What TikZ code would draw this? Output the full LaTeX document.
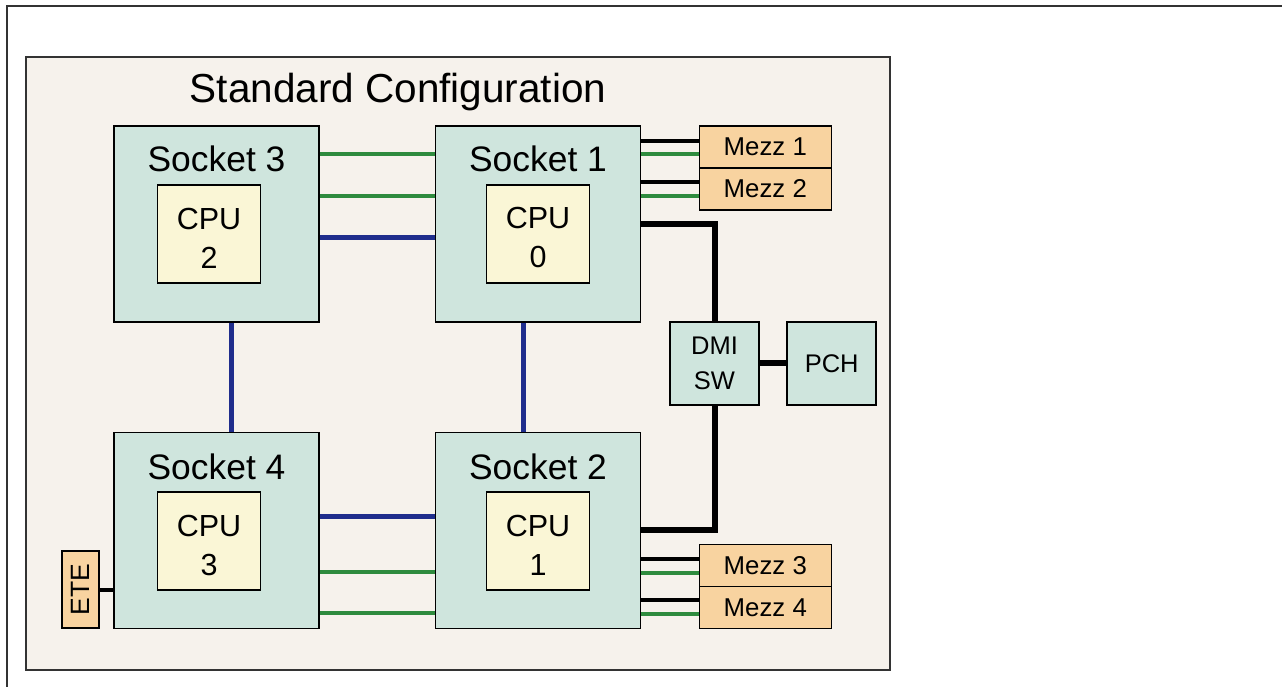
\documentclass[tikz,border=0pt]{standalone}
\usepackage{fontspec}
\setmainfont{Liberation Sans}
\definecolor{bgc}{HTML}{F6F2EC}
\definecolor{sockc}{HTML}{CFE5DD}
\definecolor{cpuc}{HTML}{FAF6D6}
\definecolor{mezzc}{HTML}{F8D3A0}
\definecolor{grn}{RGB}{46,139,62}
\definecolor{blu}{RGB}{31,45,140}
\definecolor{frame}{HTML}{333333}
\tikzset{
  box/.style={draw=black, line width=1.5pt, inner sep=0pt, align=center},
  socket/.style={box, fill=sockc, minimum width=205pt, minimum height=196pt},
  cpu/.style={box, fill=cpuc, minimum width=103pt, minimum height=98pt},
  cputext/.style={inner sep=0pt, align=center, yshift=-4pt, font=\fontsize{30.5}{39}\selectfont},
  mezz/.style={box, fill=mezzc, minimum width=132pt, minimum height=42pt, font=\fontsize{25.8}{30}\selectfont},
  chip/.style={box, fill=sockc, minimum width=89pt, minimum height=83pt, font=\fontsize{25.5}{35}\selectfont},
  socktext/.style={anchor=base, inner sep=0pt, font=\fontsize{35.4}{40}\selectfont},
  glink/.style={draw=grn, line width=4pt},
  blink/.style={draw=blu, line width=5pt},
  klink/.style={draw=black, line width=4pt},
  dmilink/.style={draw=black, line width=6pt},
}
\begin{document}
\begin{tikzpicture}[x=1pt, y=-1pt]
\useasboundingbox (0,0) rectangle (1282,687);
\draw[frame, line width=1.5pt] (7,690) -- (7,6) -- (1285,6);
\node[draw=frame, line width=1.5pt, fill=bgc, minimum width=864pt, minimum height=613pt, inner sep=0pt] (bg) at (458,363.5) {};
\node[anchor=base, inner sep=0pt, font=\fontsize{40.5}{45}\selectfont] (title) at (398,103) {Standard Configuration};

% sockets
\node[socket] (s3) at (216.5,224) {};
\node[socket] (s1) at (538,224) {};
\node[socket] (s4) at (216.5,530.5) {};
\node[socket] (s2) at (538,530.5) {};

\node[socktext] (l3) at (216.5,172) {Socket 3};
\node[socktext] (l1) at (538,172) {Socket 1};
\node[socktext] (l4) at (216.5,479) {Socket 4};
\node[socktext] (l2) at (538,479) {Socket 2};

\node[cpu] (c2) at (209,234) {};
\node[cpu] (c0) at (538,234) {};
\node[cpu] (c3) at (209,541) {};
\node[cpu] (c1) at (538,541) {};
\node[cputext] (t2) at (c2.center) {CPU\\2};
\node[cputext] (t0) at (c0.center) {CPU\\0};
\node[cputext] (t3) at (c3.center) {CPU\\3};
\node[cputext] (t1) at (c1.center) {CPU\\1};

% mezzanine cards
\node[mezz] (m1) at (765.3,147) {Mezz 1};
\node[mezz] (m2) at (765.3,189) {Mezz 2};
\node[mezz] (m3) at (765.3,565.3) {Mezz 3};
\node[mezz] (m4) at (765.3,607.3) {Mezz 4};

\node[chip] (dmi) at (714.5,363.3) {DMI\\SW};
\node[chip] (pch) at (831.7,363.3) {PCH};

\node[box, fill=mezzc, minimum width=37pt, minimum height=77pt] (ete) at (80.7,589.7)
  {\rotatebox{90}{\fontsize{26.5}{30}\selectfont ETE}};

% socket-to-socket links
\draw[glink] (s3.east |- 0,154) -- (s1.west |- 0,154);
\draw[glink] (s3.east |- 0,196) -- (s1.west |- 0,196);
\draw[blink] (s3.east |- 0,237.5) -- (s1.west |- 0,237.5);
\draw[blink] (s4.east |- 0,516) -- (s2.west |- 0,516);
\draw[glink] (s4.east |- 0,572) -- (s2.west |- 0,572);
\draw[glink] (s4.east |- 0,613) -- (s2.west |- 0,613);
\draw[blink] (s3.south -| 231,0) -- (s4.north -| 231,0);
\draw[blink] (s1.south -| 523,0) -- (s2.north -| 523,0);

% mezz links
\draw[klink] (s1.east |- 0,141) -- (m1.west |- 0,141);
\draw[glink] (s1.east |- 0,154) -- (m1.west |- 0,154);
\draw[klink] (s1.east |- 0,182) -- (m2.west |- 0,182);
\draw[glink] (s1.east |- 0,196) -- (m2.west |- 0,196);
\draw[klink] (s2.east |- 0,559) -- (m3.west |- 0,559);
\draw[glink] (s2.east |- 0,572.5) -- (m3.west |- 0,572.5);
\draw[klink] (s2.east |- 0,600) -- (m4.west |- 0,600);
\draw[glink] (s2.east |- 0,614) -- (m4.west |- 0,614);

% DMI links
\draw[dmilink] (s1.east |- 0,224) -| (dmi.north);
\draw[dmilink] (dmi.south) |- (s2.east |- 0,529.5);
\draw[dmilink] (dmi.east) -- (pch.west);

% ETE link
\draw[klink] (ete.east) -- (ete.east -| s4.west);
\end{tikzpicture}
\end{document}
